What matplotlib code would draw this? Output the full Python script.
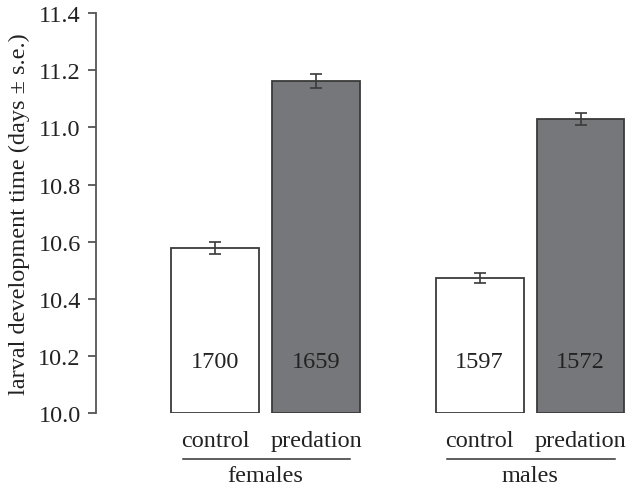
import matplotlib.pyplot as plt
import matplotlib.transforms as mtransforms

plt.rcParams['font.family'] = ['Liberation Serif', 'DejaVu Serif']

# data
groups = ['females', 'males']
treatments = ['control', 'predation']
means = [10.578, 11.163, 10.473, 11.030]
errors = [0.020, 0.024, 0.019, 0.022]
counts = ['1700', '1659', '1597', '1572']
positions = [0, 1, 2.62, 3.62]
fills = ['white', '#76777a', 'white', '#76777a']

FS = 17.5

fig = plt.figure(figsize=(6.28, 4.89), dpi=100)
ax = fig.add_axes([0.153, 0.153, 0.847, 0.818])

ax.bar(positions, [m - 10.0 for m in means], bottom=10.0, width=0.87,
       color=fills, edgecolor='#3a3a3a', linewidth=1.3, zorder=2)
ax.errorbar(positions, means, yerr=errors, fmt='none', ecolor='#3a3a3a',
            elinewidth=1.2, capsize=4, capthick=1.2, zorder=3)

for x, n in zip(positions, counts):
    ax.text(x, 10.18, n, ha='center', va='center', fontsize=FS, color='#222222')

ax.set_xlim(-1.18, 4.09)
ax.set_ylim(10.0, 11.4)
ax.set_yticks([10.0, 10.2, 10.4, 10.6, 10.8, 11.0, 11.2, 11.4])
ax.set_yticklabels(['10.0', '10.2', '10.4', '10.6', '10.8', '11.0', '11.2', '11.4'])
ax.tick_params(axis='y', direction='out', length=6, width=1.3, color='#555555',
               labelsize=FS, labelcolor='#222222', pad=5)
ax.set_xticks([])
for s in ['top', 'right', 'bottom']:
    ax.spines[s].set_visible(False)
ax.spines['left'].set_color('#555555')
ax.spines['left'].set_linewidth(1.3)
ax.set_ylabel('larval development time (days ± s.e.)', fontsize=FS,
              color='#222222', labelpad=6)

# category and group labels below the axis
trans = mtransforms.blended_transform_factory(ax.transData, fig.transFigure)
for x, t in zip(positions, treatments * 2):
    ax.text(x, 1 - 442 / 489, t, transform=trans, ha='center', va='center',
            fontsize=FS, color='#222222')
for i, g in enumerate(groups):
    x0 = positions[2 * i]
    x1 = positions[2 * i + 1]
    ax.plot([x0 - 0.32, x1 + 0.34], [1 - 460 / 489] * 2, transform=trans,
            color='#333333', linewidth=1.1, clip_on=False)
    ax.text((x0 + x1) / 2, 1 - 477 / 489, g, transform=trans, ha='center',
            va='center', fontsize=FS, color='#222222')

fig.savefig('out.png', dpi=100)
